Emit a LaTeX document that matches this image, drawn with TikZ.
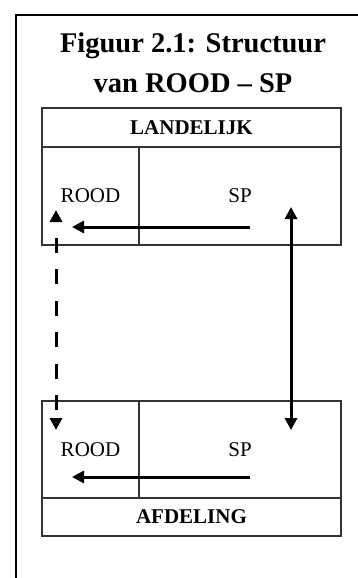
\documentclass[tikz,border=0pt]{standalone}
\usepackage{fontspec}
\setmainfont{Liberation Serif}
\usetikzlibrary{arrows.meta}

\tikzset{
  cel/.style={draw=black!80, line width=1.5pt, inner sep=0pt, font=\fontsize{21}{21}\selectfont},
  kop/.style={cel, font=\bfseries\fontsize{21}{21}\selectfont},
  pijl/.style={line width=3pt, -{Triangle[length=12pt,width=12pt]}},
  dubbelpijl/.style={line width=3pt, {Triangle[length=12pt,width=12pt]}-{Triangle[length=12pt,width=12pt]}}
}

\begin{document}
\begin{tikzpicture}[x=1pt,y=-1pt]
\clip (0,0) rectangle (358,578);
\draw[line width=2pt] (16,15) rectangle (380,600);
\node[align=center, font=\bfseries\fontsize{28.5}{40}\selectfont] (titel) at (193,63) {Figuur 2.1: Structuur\\van ROOD – SP};

% landelijk
\node[kop, minimum width=299pt, minimum height=39pt] (landelijk) at (191.5,127.5) {LANDELIJK};
\node[cel, minimum width=97pt, minimum height=98pt] (roodL) at (90.5,196) {ROOD};
\node[cel, minimum width=202pt, minimum height=98pt] (spL) at (240,196) {SP};

% afdeling
\node[cel, minimum width=97pt, minimum height=97pt] (roodA) at (90.5,449.5) {ROOD};
\node[cel, minimum width=202pt, minimum height=97pt] (spA) at (240,449.5) {SP};
\node[kop, minimum width=299pt, minimum height=38pt] (afdeling) at (191.5,517) {AFDELING};

\coordinate (spL-bron) at (250,227);
\coordinate (roodL-doel) at (72,227);
\coordinate (spA-bron) at (250,477);
\coordinate (roodA-doel) at (72,477);
\coordinate (roodL-punt) at (56,210);
\coordinate (roodA-punt) at (56,430);
\coordinate (spL-punt) at (291,207);
\coordinate (spA-punt) at (291,430);

\draw[pijl] (spL-bron) -- (roodL-doel);
\draw[pijl] (spA-bron) -- (roodA-doel);
\draw[dubbelpijl, dash pattern=on 15pt off 16.5pt, dash phase=15pt] (roodL-punt) -- (roodA-punt);
\draw[dubbelpijl] (spL-punt) -- (spA-punt);
\end{tikzpicture}
\end{document}
